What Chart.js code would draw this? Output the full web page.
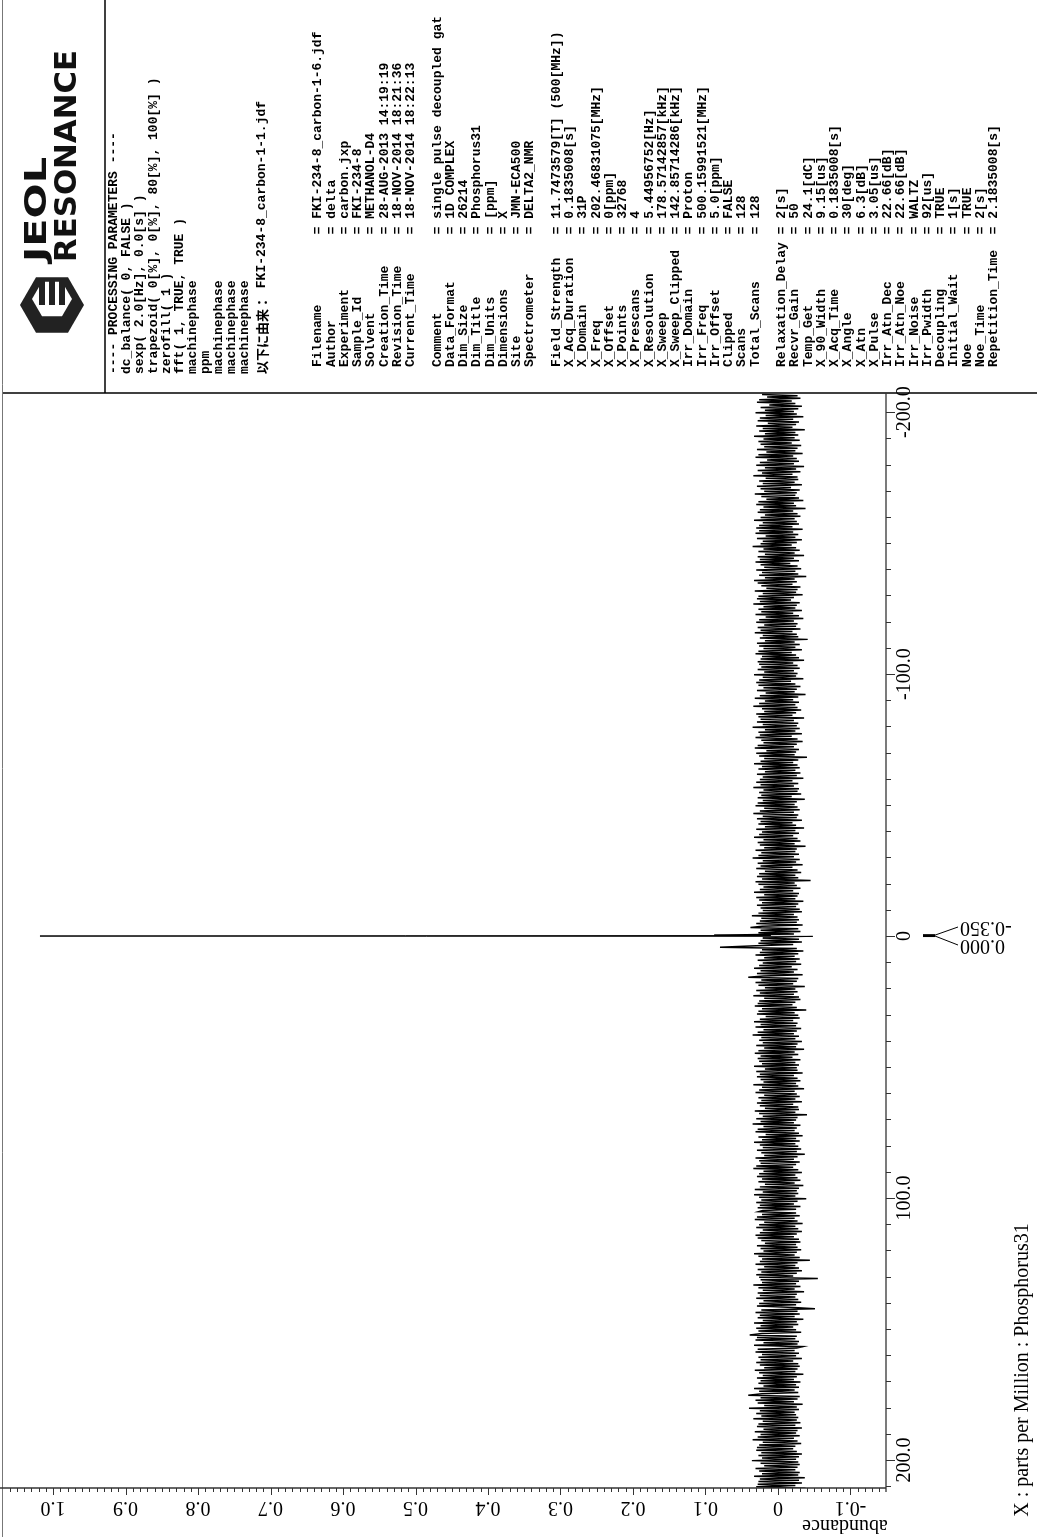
<!DOCTYPE html>
<html>
<head>
<meta charset="utf-8">
<script src="https://cdn.jsdelivr.net/npm/chart.js@4.4.0/dist/chart.umd.min.js"></script>
<style>
  html, body { margin: 0; padding: 0; background: #fff; }
  canvas { display: block; }
</style>
</head>
<body>
<canvas id="spectrum" width="1037" height="1537"></canvas>
<script>
// ---- 31P spectrum samples (abundance in thousandths of full scale) ----
// one sample every 0.5 ppm, starting at -206.75 ppm
const ppmStart = -206.75;
const ppmStep = 0.5;

// -206.75 .. -155.25 ppm
const noiseBlock1 = [
  22,-27,15,-31,26,-19,29,-24,12,-33,24,-28,18,
  -22,31,-26,17,-35,25,-21,28,-29,14,-25,30,-20,
  21,-37,26,-24,18,-28,33,-23,20,-30,27,-19,24,
  -32,19,-27,29,-24,16,-34,27,-21,31,-26,15,-29,
  25,-22,30,-36,18,-25,28,-31,22,-20,34,-27,17,
  -28,26,-23,21,-33,29,-18,24,-30,19,-26,32,-24,
  23,-29,16,-35,27,-22,30,-25,20,-38,25,-21,28,
  -27,18,-31,24,-23,33,-26,21,-29,26,-20,30,-34
];
// -154.75 .. -103.25 ppm
const noiseBlock2 = [
  26,-21,31,-28,17,-24,29,-33,21,-26,24,-19,35,
  -25,20,-30,27,-23,18,-36,28,-22,25,-29,31,-17,
  24,-27,19,-32,30,-24,22,-28,26,-39,18,-23,33,
  -26,28,-20,23,-31,16,-27,32,-25,21,-34,27,-22,
  29,-18,25,-30,34,-26,20,-24,27,-33,23,-21,31,
  -29,17,-35,26,-22,30,-27,19,-25,28,-31,24,-20,
  32,-26,21,-28,25,-41,18,-23,29,-30,26,-24,20,
  -33,27,-19,31,-25,22,-29,24,-36,28,-21,26,-27
];
// -102.75 .. -51.25 ppm
const noiseBlock3 = [
  23,-30,28,-22,19,-27,33,-25,21,-35,26,-18,30,
  -24,27,-31,20,-26,29,-23,17,-38,25,-28,32,-21,
  18,-29,26,-24,34,-27,22,-32,19,-25,30,-20,27,
  -36,24,-22,29,-28,21,-26,35,-30,18,-24,27,-33,
  25,-19,31,-27,23,-34,20,-26,28,-22,32,-29,16,
  -25,30,-23,26,-40,19,-28,24,-21,33,-27,22,-30,
  27,-24,18,-31,29,-26,21,-35,25,-20,30,-28,24,
  -22,34,-29,20,-27,26,-32,23,-19,28,-37,21,-26
];
// -50.75 .. 0.75 ppm
const noiseBlock4 = [
  28,-23,31,-27,19,-30,25,-22,34,-28,21,-26,29,
  -33,24,-20,27,-25,18,-36,30,-24,22,-29,26,-21,
  33,-27,20,-31,28,-23,25,-38,19,-26,31,-24,23,
  -29,27,-22,35,-30,21,-25,28,-34,24,-20,30,-27,
  18,-32,26,-24,29,-28,22,-45,31,-23,27,-26,20,
  -31,25,-21,33,-29,19,-27,30,-24,26,-35,22,-28,
  29,-25,24,-30,21,-33,27,-22,36,-27,23,-29,25,
  -26,30,-34,22,38,-28,24,-31,27,-22,29,-26,21
];
// 1.25 .. 52.75 ppm
const noiseBlock5 = [
  -29,24,-33,27,-21,30,80,-26,22,-35,25,-28,31,
  -23,19,-30,28,-25,21,-32,26,-19,33,-27,24,-22,
  29,-34,20,41,-28,23,-26,31,-21,27,-37,18,-24,
  30,-27,25,-22,34,-29,19,-31,26,-24,28,-20,32,
  -26,22,-39,27,-23,29,-28,17,-30,25,-21,33,-27,
  24,-25,31,-32,20,-26,28,-22,35,-29,23,-24,26,
  -33,21,-27,30,-25,19,-36,27,-23,32,-28,24,-20,
  28,-31,26,-24,22,-29,33,-26,18,-27,30,-34,25
];
// 53.25 .. 104.75 ppm
const noiseBlock6 = [
  -22,29,-27,24,-31,20,-25,34,-28,22,-36,26,-23,
  31,-26,19,-30,27,-24,23,-33,29,-21,25,-28,18,
  -29,32,-24,26,-40,21,-27,30,-25,24,-22,35,-31,
  20,-26,28,-23,31,-29,17,-34,27,-25,22,-30,33,
  -24,25,-28,21,-32,29,-26,23,-37,19,-27,31,-22,
  26,-30,24,-25,30,-21,34,-28,20,-33,26,-24,29,
  -27,22,-31,27,-23,18,-35,25,-29,32,-26,21,-28,
  33,-24,26,-39,23,-27,30,-22,25,-31,28,-25,21
];
// 105.25 .. 156.75 ppm
const noiseBlock7 = [
  27,-25,22,-30,29,-23,32,-27,19,-34,26,-24,30,
  -28,21,-33,25,-26,31,-22,28,-29,23,-31,18,-25,
  29,-27,24,-32,20,-26,33,-23,27,-30,22,-44,25,
  -27,31,-24,19,-29,28,-33,23,-26,30,-21,26,-55,
  24,-29,22,-25,34,-31,27,-23,21,-36,28,-26,25,
  -24,30,-28,20,-32,26,-25,29,-22,-51,23,-27,31,
  -30,25,-23,28,-35,21,-26,33,-28,24,-21,30,-25,
  27,-32,22,39,-26,29,-24,31,-29,20,-27,33,-34
];
// 157.25 .. 210.75 ppm
const noiseBlock8 = [
  -26,28,-23,31,-29,22,-25,27,-33,24,-21,30,-28,
  25,-30,19,-27,32,-24,26,-35,21,-26,29,-22,24,
  -31,27,-25,20,-29,33,-23,26,-28,22,41,-30,24,
  -27,31,-22,28,-34,19,-26,40,-29,25,-23,30,-25,
  23,-28,34,-26,21,-31,27,-24,29,-33,20,-27,32,
  -25,24,-30,28,-22,35,-27,21,-32,26,-24,29,-21,
  30,-26,23,-33,27,-29,22,-25,36,-28,24,-30,19,
  -27,31,-24,26,-30,22,-28,33,-37,25,-29,27,-33,
  28,-24,30,-38
];

// resolved samples around the reference signal (ppm, abundance)
const centerShifts = [-0.35, -0.2, 0.0, 0.12];
const centerValues = [0.088, 0.010, 1.018, -0.048];

// picked peaks
const peakShifts = [-0.35, 0.0];
const peakLabels = ['-0.350', '0.000'];

// axis tick labels
const ppmTickValues = [-200, -100, 0, 100, 200];
const ppmTickLabels = ['-200.0', '-100.0', '0', '100.0', '200.0'];
const abundanceTickValues = [1.0, 0.9, 0.8, 0.7, 0.6, 0.5, 0.4, 0.3, 0.2, 0.1, 0, -0.1];
const abundanceTickLabels = ['1.0', '0.9', '0.8', '0.7', '0.6', '0.5', '0.4', '0.3', '0.2', '0.1', '0', '-0.1'];

// ---- header text ----
const processingLines = [
  '---- PROCESSING PARAMETERS ----',
  'dc_balance( 0, FALSE )',
  'sexp( 2.0[Hz], 0.0[s] )',
  'trapezoid( 0[%], 0[%], 80[%], 100[%] )',
  'zerofill( 1 )',
  'fft( 1, TRUE, TRUE )',
  'machinephase',
  'ppm',
  'machinephase',
  'machinephase',
  'machinephase'
];
const derivedFromLabel = '以下に由来：';
const derivedFromFile = ' FKI-234-8_carbon-1-1.jdf';

const paramNames = [
  'Filename', 'Author', 'Experiment', 'Sample_Id', 'Solvent', 'Creation_Time', 'Revision_Time', 'Current_Time', '',
  'Comment', 'Data_Format', 'Dim_Size', 'Dim_Title', 'Dim_Units', 'Dimensions', 'Site', 'Spectrometer', '',
  'Field_Strength', 'X_Acq_Duration', 'X_Domain', 'X_Freq', 'X_Offset', 'X_Points', 'X_Prescans', 'X_Resolution',
  'X_Sweep', 'X_Sweep_Clipped', 'Irr_Domain', 'Irr_Freq', 'Irr_Offset', 'Clipped', 'Scans', 'Total_Scans', '',
  'Relaxation_Delay', 'Recvr_Gain', 'Temp_Get', 'X_90_Width', 'X_Acq_Time', 'X_Angle', 'X_Atn', 'X_Pulse',
  'Irr_Atn_Dec', 'Irr_Atn_Noe', 'Irr_Noise', 'Irr_Pwidth', 'Decoupling', 'Initial_Wait', 'Noe', 'Noe_Time',
  'Repetition_Time'
];
const paramValues = [
  'FKI-234-8_carbon-1-6.jdf', 'delta', 'carbon.jxp', 'FKI-234-8', 'METHANOL-D4',
  '28-AUG-2013 14:19:19', '18-NOV-2014 18:21:36', '18-NOV-2014 18:22:13', '',
  'single pulse decoupled gat', '1D COMPLEX', '26214', 'Phosphorus31', '[ppm]', 'X', 'JMN-ECA500', 'DELTA2_NMR', '',
  '11.7473579[T] (500[MHz])', '0.1835008[s]', '31P', '202.46831075[MHz]', '0[ppm]', '32768', '4',
  '5.44956752[Hz]', '178.57142857[kHz]', '142.85714286[kHz]', 'Proton', '500.15991521[MHz]',
  '5.0[ppm]', 'FALSE', '128', '128', '',
  '2[s]', '50', '24.1[dC]', '9.15[us]', '0.1835008[s]', '30[deg]', '6.3[dB]', '3.05[us]',
  '22.66[dB]', '22.66[dB]', 'WALTZ', '92[us]', 'TRUE', '1[s]', 'TRUE', '2[s]', '2.1835008[s]'
];

const xTitle = 'X : parts per Million : Phosphorus31';
const yTitle = 'abundance';

// ---- assemble the trace ----
const noiseAll = [].concat(noiseBlock1, noiseBlock2, noiseBlock3, noiseBlock4,
                           noiseBlock5, noiseBlock6, noiseBlock7, noiseBlock8);
const trace = noiseAll.map((v, i) => ({ x: v / 1000, y: ppmStart + i * ppmStep }));
centerShifts.forEach((s, i) => trace.push({ x: centerValues[i], y: s }));
trace.sort((a, b) => a.y - b.y);

// ---- page geometry ----
const AXIS_X = 886;      // ppm axis (right edge of plot)
const AXIS_Y = 1488;     // abundance axis (bottom of plot)
const BOX_BOTTOM = 393;  // bottom of header box

function rotText(ctx, text, x, y, angle, align, baseline, font, color) {
  ctx.save();
  ctx.translate(x, y);
  ctx.rotate(angle);
  ctx.font = font;
  ctx.fillStyle = color || '#000';
  ctx.textAlign = align;
  ctx.textBaseline = baseline;
  ctx.fillText(text, 0, 0);
  ctx.restore();
}

function line(ctx, x1, y1, x2, y2, w, color) {
  ctx.beginPath();
  ctx.moveTo(x1, y1);
  ctx.lineTo(x2, y2);
  ctx.lineWidth = w;
  ctx.strokeStyle = color || '#000';
  ctx.stroke();
}

const SERIF = '20px "Liberation Serif", "Times New Roman", serif';
const MONO = 'bold 13px "Liberation Mono", "Courier New", monospace';
const UP = -Math.PI / 2;

const pageDecor = {
  id: 'pageDecor',
  afterDraw(chart) {
    const ctx = chart.ctx;
    const sx = chart.scales.x;
    const sy = chart.scales.y;
    ctx.save();

    // frame lines
    line(ctx, 2.5, 0, 2.5, 1537, 1, '#777');
    line(ctx, 3, BOX_BOTTOM, 1037, BOX_BOTTOM, 1.5, '#000');
    line(ctx, 105, 0, 105, BOX_BOTTOM, 1.5, '#000');

    // axes
    line(ctx, AXIS_X, BOX_BOTTOM, AXIS_X, AXIS_Y + 4, 1.3, '#333');
    line(ctx, 0, AXIS_Y, AXIS_X, AXIS_Y, 1.3, '#333');

    // ppm ticks every 10 ppm
    for (let p = -200; p <= 210; p += 10) {
      const y = Math.round(sy.getPixelForValue(p)) + 0.5;
      const len = (p % 100 === 0) ? 9 : 5;
      line(ctx, AXIS_X, y, AXIS_X + len, y, 1, '#333');
    }
    ppmTickValues.forEach((v, i) => {
      rotText(ctx, ppmTickLabels[i], 905, sy.getPixelForValue(v), UP, 'center', 'middle', SERIF);
    });

    // abundance ticks every 0.01
    for (let i = -14; i <= 106; i++) {
      const x = Math.round(sx.getPixelForValue(i / 100)) + 0.5;
      const len = (i % 10 === 0) ? 7 : 4;
      line(ctx, x, AXIS_Y, x, AXIS_Y + len, 1, '#333');
    }
    abundanceTickValues.forEach((v, i) => {
      rotText(ctx, abundanceTickLabels[i], sx.getPixelForValue(v), 1507, Math.PI, 'center', 'middle', SERIF);
    });

    // axis titles
    rotText(ctx, yTitle, 845, 1525, Math.PI, 'center', 'middle', SERIF);
    rotText(ctx, xTitle, 1023, 1370, UP, 'center', 'middle', SERIF);

    // peak pick labels
    const labelY = [927, 945];
    peakShifts.forEach((s, i) => {
      const y = sy.getPixelForValue(s);
      line(ctx, 923, y, 935, y, 2, '#000');
      line(ctx, 935, y, 958, labelY[i], 1, '#000');
      rotText(ctx, peakLabels[i], 960, labelY[i], Math.PI, 'right', 'middle', SERIF);
    });

    // processing parameters column
    const procStartY = 374;
    processingLines.forEach((t, i) => {
      rotText(ctx, t, 114 + i * 13.1, procStartY, UP, 'left', 'middle', MONO);
    });
    const cjkFont = 'bold 13px "Noto Sans CJK JP", sans-serif';
    rotText(ctx, derivedFromLabel, 262, procStartY, UP, 'left', 'middle', cjkFont);
    ctx.save();
    ctx.font = cjkFont;
    const cjkW = ctx.measureText(derivedFromLabel).width;
    ctx.restore();
    rotText(ctx, derivedFromFile, 262, procStartY - cjkW, UP, 'left', 'middle', MONO);

    // acquisition parameters
    const nameStartY = 367;
    paramNames.forEach((n, i) => {
      if (!n) return;
      const x = 318 + i * 13.25;
      rotText(ctx, n.padEnd(17, ' ') + '= ' + paramValues[i], x, nameStartY, UP, 'left', 'middle', MONO);
    });

    drawLogo(ctx);
    ctx.restore();
  }
};

function drawLogo(ctx) {
  // wordmark
  const words = [['JEOL', 38], ['RESONANCE', 68]];
  words.forEach(([w, x], k) => {
    ctx.save();
    ctx.translate(x, 262);
    ctx.rotate(UP);
    ctx.font = 'bold 30px "DejaVu Sans", sans-serif';
    const width = ctx.measureText(w).width;
    const target = k === 0 ? 105 : 212;
    ctx.scale(target / width, 1);
    ctx.textAlign = 'left';
    ctx.textBaseline = 'middle';
    ctx.fillStyle = '#111';
    ctx.fillText(w, 0, 0);
    ctx.restore();
  });
  // emblem
  ctx.save();
  ctx.translate(52, 305);
  ctx.rotate(UP);
  ctx.fillStyle = '#222';
  ctx.beginPath();
  const r = 32;
  for (let a = 0; a < 6; a++) {
    const ang = Math.PI / 6 + a * Math.PI / 3;
    const px = r * Math.cos(ang), py = r * Math.sin(ang);
    if (a === 0) ctx.moveTo(px, py); else ctx.lineTo(px, py);
  }
  ctx.closePath();
  ctx.fill();
  ctx.fillStyle = '#fff';
  ctx.beginPath();
  const r2 = 20;
  for (let a = 0; a < 6; a++) {
    const ang = Math.PI / 6 + a * Math.PI / 3;
    const px = 6 + r2 * Math.cos(ang), py = r2 * Math.sin(ang);
    if (a === 0) ctx.moveTo(px, py); else ctx.lineTo(px, py);
  }
  ctx.closePath();
  ctx.fill();
  ctx.fillStyle = '#222';
  [-10, 0, 10].forEach(dy => ctx.fillRect(0, dy - 3, 26, 6));
  ctx.restore();
}

// thinner stroke right at the reference signal so the tall line stays crisp
const nearCenter = c => Math.abs(c.p0.parsed.y) < 0.3 || Math.abs(c.p1.parsed.y) < 0.3;

new Chart(document.getElementById('spectrum'), {
  type: 'scatter',
  data: {
    datasets: [{
      data: trace,
      showLine: true,
      borderColor: '#000',
      borderWidth: 1.5,
      segment: { borderWidth: c => nearCenter(c) ? 1 : 1.5 },
      pointRadius: 0,
      pointHoverRadius: 0,
      tension: 0,
      fill: false
    }]
  },
  options: {
    responsive: false,
    animation: false,
    devicePixelRatio: 1,
    events: [],
    layout: { padding: { left: 3, right: 1037 - AXIS_X, top: BOX_BOTTOM, bottom: 1537 - AXIS_Y } },
    plugins: { legend: { display: false }, tooltip: { enabled: false } },
    scales: {
      x: { type: 'linear', min: -0.149, max: 1.069, reverse: true, display: false },
      y: { type: 'linear', min: -207.3, max: 210.7, reverse: true, display: false }
    }
  },
  plugins: [pageDecor]
});
</script>
</body>
</html>
